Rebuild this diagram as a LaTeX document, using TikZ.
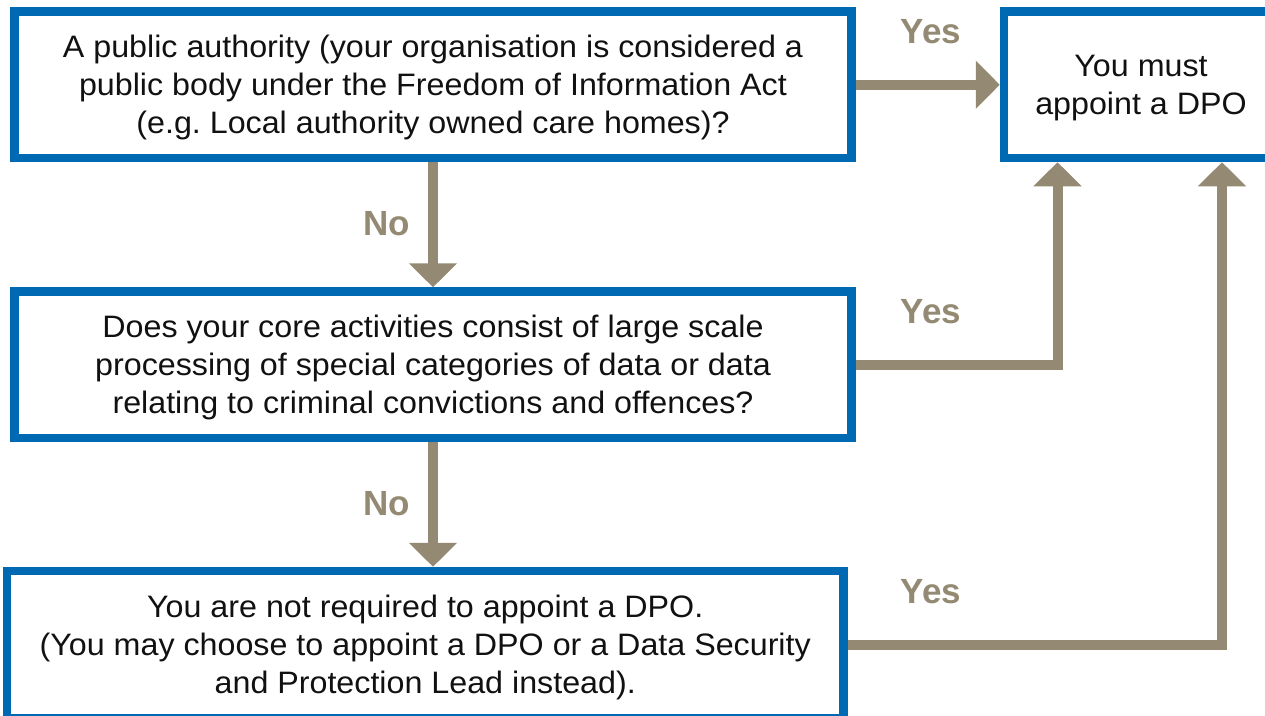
\documentclass[tikz,border=0pt]{standalone}
\usepackage{fontspec}
\setmainfont{Liberation Sans}
\newfontfamily\bodyfont[FakeStretch=1.04]{Liberation Sans}
\usetikzlibrary{arrows.meta}
\definecolor{boxblue}{RGB}{0,105,180}
\definecolor{arrgray}{RGB}{148,138,115}
\definecolor{txt}{RGB}{17,17,17}
\frenchspacing
\begin{document}
\begin{tikzpicture}[x=1pt,y=-1pt,
  qbox/.style={draw=boxblue, line width=8.5pt, fill=white, rectangle, inner sep=0pt,
    align=center, text=txt, text depth=0pt, font=\bodyfont\fontsize{31}{38}\selectfont},
  arr/.style={draw=arrgray, line width=10pt, line join=miter,
    -{Triangle[width=47pt,length=24pt]}},
  lbl/.style={text=arrgray, font=\fontsize{35}{40}\selectfont\bfseries, anchor=base, inner sep=0pt}
]
\useasboundingbox (0,0) rectangle (1265,715);
\node[qbox, minimum width=837pt, minimum height=146.5pt] (q1) at (433,84.75)
  {A public authority (your organisation is considered a\\public body under the Freedom of Information Act\\(e.g. Local authority owned care homes)?};
\node[qbox, minimum width=274pt, minimum height=146.5pt] (dpo) at (1141,84.75)
  {You must\\appoint a DPO};
\node[qbox, minimum width=837pt, minimum height=146.5pt] (q2) at (433,364.75)
  {Does your core activities consist of large scale\\processing of special categories of data or data\\relating to criminal convictions and offences?};
\node[qbox, minimum width=836.5pt, minimum height=147.5pt] (q3) at (425.25,644.75)
  {You are not required to appoint a DPO.\\(You may choose to appoint a DPO or a Data Security\\and Protection Lead instead).};
\coordinate (c2) at (1057.5,0);
\coordinate (c3) at (1222,0);
\draw[arr] (q1.east) -- (dpo.west);
\draw[arr] (q1.south) -- (q2.north);
\draw[arr] (q2.south) -- (q2.south |- q3.north);
\draw[arr] (q2.east) -| (c2 |- dpo.south);
\draw[arr] (q3.east) -| (c3 |- dpo.south);
\node[lbl] (y1) at (931,43) {Yes};
\node[lbl] (y2) at (931,323) {Yes};
\node[lbl] (y3) at (931,603) {Yes};
\node[lbl] (n1) at (386.5,235) {No};
\node[lbl] (n2) at (386.5,515) {No};
\end{tikzpicture}
\end{document}
